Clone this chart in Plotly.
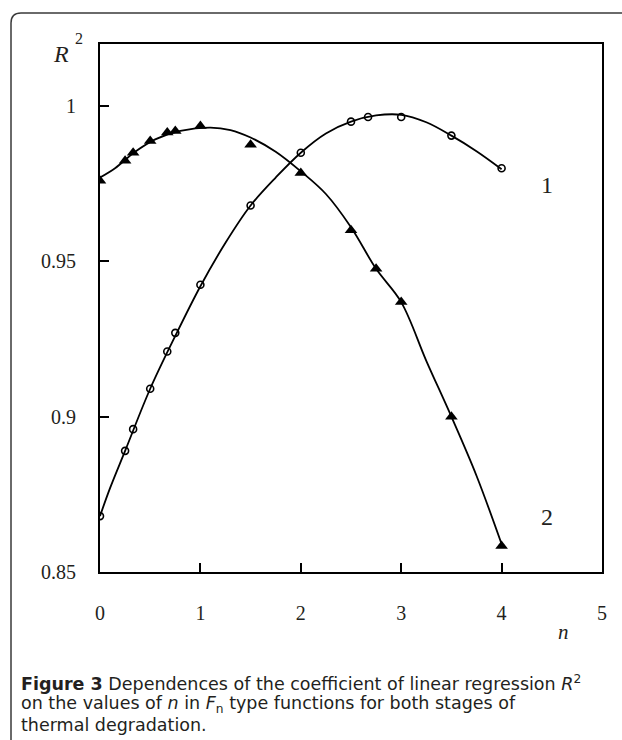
import plotly.graph_objects as go

# ---- data ----
n_circ = [0, 0.25, 0.33, 0.5, 0.67, 0.75, 1, 1.5, 2, 2.5, 2.67, 3, 3.5, 4]
r2_circ = [0.868, 0.889, 0.896, 0.909, 0.921, 0.927, 0.9425, 0.968, 0.985, 0.995, 0.9965, 0.9965, 0.9905, 0.980]

n_tri = [0, 0.25, 0.33, 0.5, 0.67, 0.75, 1, 1.5, 2, 2.5, 2.75, 3, 3.5, 4]
r2_tri = [0.976, 0.9824, 0.985, 0.9888, 0.9915, 0.992, 0.9936, 0.9876, 0.9785, 0.960, 0.9476, 0.9369, 0.900, 0.8584]

fit1_x = [0, 0.1, 0.25, 0.5, 0.75, 1.0, 1.25, 1.5, 1.75, 2.0, 2.25, 2.5, 2.75, 3.0, 3.25, 3.5, 3.75, 4.0]
fit1_y = [0.868, 0.877, 0.889, 0.909, 0.926, 0.942, 0.956, 0.968, 0.977, 0.985, 0.9912, 0.995, 0.9970, 0.9972, 0.9948, 0.9905, 0.9855, 0.9797]

fit2_x = [0, 0.15, 0.35, 0.55, 0.8, 1.1, 1.3, 1.5, 1.75, 2.0, 2.25, 2.5, 2.75, 3.0, 3.25, 3.5, 3.75, 4.0]
fit2_y = [0.977, 0.980, 0.9853, 0.9893, 0.992, 0.9931, 0.9923, 0.9899, 0.9853, 0.979, 0.9717, 0.961, 0.9476, 0.9369, 0.918, 0.900, 0.881, 0.859]

x_ticks = [0, 1, 2, 3, 4, 5]
y_ticks = [0.85, 0.9, 0.95, 1.0]
y_tick_text = ["0.85", "0.9", "0.95", "1"]

caption_lines = [
    "<b>Figure 3</b> Dependences of the coefficient of linear regression <i>R</i><sup>2</sup>",
    "on the values of <i>n</i> in <i>F</i><sub>n</sub> type functions for both stages of",
    "thermal degradation.",
]

SERIF = "Liberation Serif"
SANS = "DejaVu Sans"
INK = "#231f20"

fig = go.Figure()
fig.add_trace(go.Scatter(x=fit1_x, y=fit1_y, mode="lines", line=dict(color="black", width=1.8, shape="spline", smoothing=1.0), hoverinfo="skip"))
fig.add_trace(go.Scatter(x=fit2_x, y=fit2_y, mode="lines", line=dict(color="black", width=1.8, shape="spline", smoothing=1.0), hoverinfo="skip"))
fig.add_trace(go.Scatter(x=n_circ, y=r2_circ, mode="markers",
                         marker=dict(symbol="circle-open", size=7, color="black", line=dict(width=1.6, color="black"))))
fig.add_trace(go.Scatter(x=n_tri, y=r2_tri, mode="markers",
                         marker=dict(symbol="triangle-up", size=11, color="black", line=dict(width=0))))

W, H = 622, 740
ML, MR, MT, MB = 100, 20, 44, 168
pw, ph = W - ML - MR, H - MT - MB

def px(x):
    return (x - ML) / pw

def py(y):
    return (H - MB - y) / ph

# outer rounded frame (top-left corner, open to the right and bottom)
x0, yt, r = 11, 13, 10
frame = (f"M {px(x0)},{py(H + 5)} L {px(x0)},{py(yt + r)} "
         f"Q {px(x0)},{py(yt)} {px(x0 + r)},{py(yt)} L {px(W + 5)},{py(yt)}")
fig.add_shape(type="path", path=frame, xref="paper", yref="paper",
              line=dict(color="#3a3a3a", width=1.5))

fig.update_layout(
    width=W, height=H,
    margin=dict(l=ML, r=MR, t=MT, b=MB),
    paper_bgcolor="white", plot_bgcolor="white",
    showlegend=False,
    font=dict(family=SERIF, size=20, color=INK),
    xaxis=dict(range=[0, 5], tickvals=x_ticks, ticks="inside", ticklen=9, tickwidth=1.5,
               tickcolor="black", showline=True, linecolor="black", linewidth=2, mirror=True,
               showgrid=False, zeroline=False, ticklabelstandoff=22,
               tickfont=dict(family=SERIF, size=20, color=INK)),
    yaxis=dict(range=[0.85, 1.02], tickvals=y_ticks, ticktext=y_tick_text, ticks="inside",
               ticklen=9, tickwidth=1.5, tickcolor="black", showline=True, linecolor="black",
               linewidth=2, mirror=True, showgrid=False, zeroline=False, ticklabelstandoff=18,
               tickfont=dict(family=SERIF, size=20, color=INK)),
)

anns = [
    dict(text="<i>R</i>", x=px(61), y=py(54), size=24),
    dict(text="2", x=px(79), y=py(39), size=16),
    dict(text="<i>n</i>", x=px(563), y=py(632), size=21),
    dict(text="1", x=px(547), y=py(185), size=24),
    dict(text="2", x=px(547), y=py(517), size=24),
]
for a in anns:
    fig.add_annotation(text=a["text"], x=a["x"], y=a["y"], xref="paper", yref="paper",
                       showarrow=False, xanchor="center", yanchor="middle",
                       font=dict(family=SERIF, size=a["size"], color=INK))

for i, line in enumerate(caption_lines):
    fig.add_annotation(text=line, x=px(19), y=py(683 + 21 * i), xref="paper", yref="paper",
                       showarrow=False, xanchor="left", yanchor="middle", align="left",
                       font=dict(family=SANS, size=17.5, color=INK))

fig.write_html("out.html")
